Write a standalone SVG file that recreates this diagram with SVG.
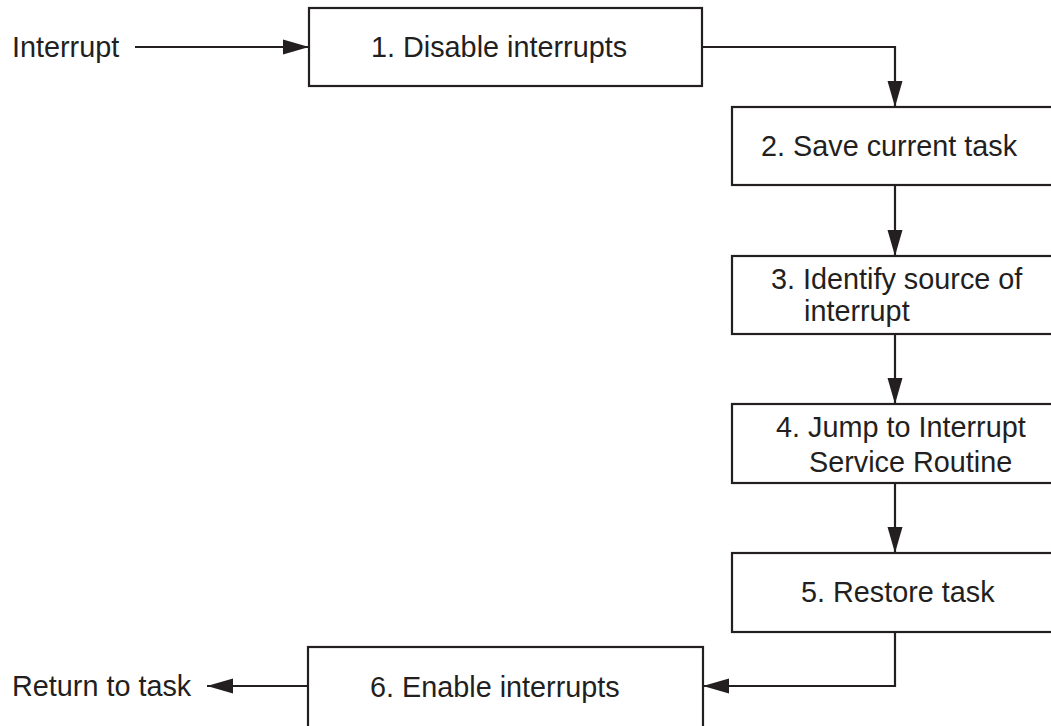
<svg xmlns="http://www.w3.org/2000/svg" width="1051" height="726" viewBox="0 0 1051 726">
<style>
.box{fill:#fff;stroke:#231f20;stroke-width:2.2}
.t{font-family:"Liberation Sans",Arial,Helvetica,sans-serif;font-size:28.8px;fill:#231f20}
.c{fill:none;stroke:#231f20;stroke-width:2.2;marker-end:url(#ah)}
</style>
<defs>
<marker id="ah" markerUnits="userSpaceOnUse" markerWidth="26" markerHeight="16" refX="26" refY="8" orient="auto">
<path d="M0,0.5 L26,8 L0,15.5 Z" fill="#231f20"/>
</marker>
</defs>
<rect width="1051" height="726" fill="#fff"/>
<g id="connectors">
<path class="c" d="M135 47 H309"/>
<path class="c" d="M702 47 H895 V107"/>
<path class="c" d="M895 185 V256"/>
<path class="c" d="M895 334 V404"/>
<path class="c" d="M895 483 V553"/>
<path class="c" d="M895 632 V686 H703"/>
<path class="c" d="M308 686 H207"/>
</g>
<g id="interrupt-label"><text class="t" x="12" y="57">Interrupt</text></g>
<g id="node1"><rect class="box" x="309" y="8" width="393" height="78"/><text class="t" x="371" y="57">1. Disable interrupts</text></g>
<g id="node2"><rect class="box" x="732" y="107" width="322" height="78"/><text class="t" x="761" y="156">2. Save current task</text></g>
<g id="node3"><rect class="box" x="732" y="256" width="322" height="78"/><text class="t" x="771" y="289">3. Identify source of</text><text class="t" x="804" y="321">interrupt</text></g>
<g id="node4"><rect class="box" x="732" y="404" width="322" height="79"/><text class="t" x="776" y="437">4. Jump to Interrupt</text><text class="t" x="809" y="472">Service Routine</text></g>
<g id="node5"><rect class="box" x="732" y="553" width="322" height="79"/><text class="t" x="801" y="602">5. Restore task</text></g>
<g id="node6"><rect class="box" x="308" y="647" width="395" height="82"/><text class="t" x="370" y="697">6. Enable interrupts</text></g>
<g id="return-label"><text class="t" x="12" y="696">Return to task</text></g>
</svg>
